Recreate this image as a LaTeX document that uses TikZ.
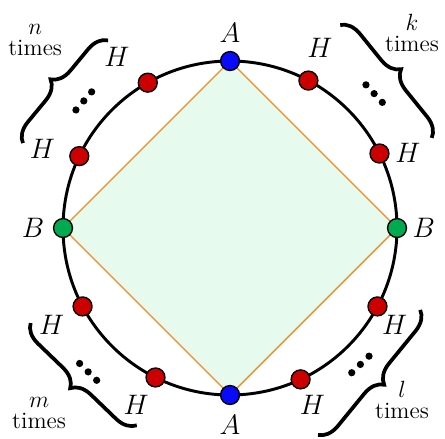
\documentclass[tikz,border=0pt]{standalone}
\usepackage{amsmath,amssymb}
\usepackage{xcolor}
\usepackage{tikz}
\usetikzlibrary{decorations.pathreplacing,backgrounds,positioning}
\definecolor{acol}{RGB}{10,10,250}
\definecolor{bcol}{RGB}{0,170,80}
\definecolor{hcol}{RGB}{205,0,0}
\definecolor{ecol}{RGB}{240,140,40}
\definecolor{sqcol}{RGB}{230,250,238}

\begin{document}
\begin{tikzpicture}[dot/.style={circle,draw,line width=0.7pt,inner sep=0pt,minimum size=3.4mm}, lab/.style={font=\Large}, brc/.style={decorate,decoration={brace,amplitude=3.5mm},line width=1.9pt}, tms/.style={font=\large,align=center}]
\useasboundingbox (-4.132,-3.790) rectangle (3.862,4.096);
\coordinate (O) at (0,0);
% vertices of the square
\node[dot, fill=acol] (a1) at (90:3) {};
\node[dot, fill=acol] (a2) at (270:3) {};
\node[dot, fill=bcol] (b1) at (180:3) {};
\node[dot, fill=bcol] (b2) at (0:3) {};
% H points
\node[dot, fill=hcol] (h1) at (62:3) {};
\node[dot, fill=hcol] (h2) at (26.5:3) {};
\node[dot, fill=hcol] (h3) at (119.5:3) {};
\node[dot, fill=hcol] (h4) at (154.5:3) {};
\node[dot, fill=hcol] (h5) at (208:3) {};
\node[dot, fill=hcol] (h6) at (243.5:3) {};
\node[dot, fill=hcol] (h7) at (295:3) {};
\node[dot, fill=hcol] (h8) at (332:3) {};
\begin{scope}[on background layer]
\fill[sqcol] (a1.center)--(b2.center)--(a2.center)--(b1.center)--cycle;
\draw[ecol,line width=0.7pt] (a1.center)--(b2.center); \draw[ecol,line width=0.7pt] (b2.center)--(a2.center);
\draw[ecol,line width=0.7pt] (a2.center)--(b1.center); \draw[ecol,line width=0.7pt] (b1.center)--(a1.center);
\draw[line width=1.5pt] (O) circle (3);
\end{scope}
% labels
\node[lab] (la1) at (90:3.50) {$A$};
\node[lab] (la2) at (270:3.54) {$A$};
\node[lab] (lb1) at (180:3.54) {$B$};
\node[lab] (lb2) at (0:3.48) {$B$};
\node[lab] (lh1) at (63.4:3.61) {$H$};
\node[lab] (lh2) at (23:3.47) {$H$};
\node[lab] (lh3) at (123.5:3.68) {$H$};
\node[lab] (lh4) at (157:3.66) {$H$};
\node[lab] (lh5) at (208.6:3.65) {$H$};
\node[lab] (lh6) at (242:3.59) {$H$};
\node[lab] (lh7) at (295:3.50) {$H$};
\node[lab] (lh8) at (329.5:3.43) {$H$};
% dots between the H points
\foreach \a/\r in {139/3.48, 43/3.54, 225.4/3.63, 313.7/3.39}{
  \begin{scope}[shift={(\a:\r)}, rotate=\a]
  \fill (0,-0.215) circle (0.065); \fill (0,0) circle (0.065); \fill (0,0.215) circle (0.065);
  \end{scope}
}
% braces
\draw[brc] (157.7:4.02) -- (123:4.02);
\draw[brc] (61.5:4.15) -- (24:3.97);
\draw[brc] (244.7:3.92) -- (205.4:3.97);
\draw[brc] (336.7:3.72) -- (293:4.04);
\node[tms] (tn) at (-3.50,3.38) {$n$\\[-3pt]times};
\node[tms] (tk) at (3.27,3.50) {$k$\\[-3pt]times};
\node[tms] (tm) at (-3.43,-3.32) {$m$\\[-3pt]times};
\node[tms] (tl) at (3.09,-3.09) {$l$\\[-3pt]times};
\end{tikzpicture}
\end{document}
